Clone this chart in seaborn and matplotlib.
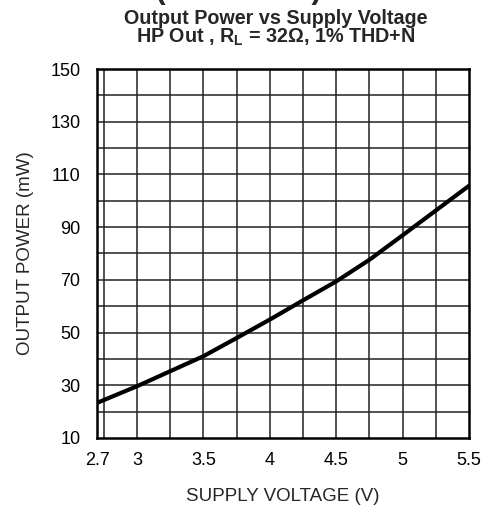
import matplotlib
matplotlib.use('Agg')
import matplotlib.pyplot as plt
import numpy as np
import pandas as pd
import seaborn as sns

# data
supply_voltage = [2.7, 3.0, 3.25, 3.5, 3.75, 4.0, 4.25, 4.5, 4.75, 5.0, 5.25, 5.5]
output_power = [23.3, 29.6, 35.3, 41.0, 47.9, 54.9, 62.2, 69.4, 77.6, 86.9, 96.3, 105.7]

x_ticks = [2.7, 3, 3.5, 4, 4.5, 5, 5.5]
x_tick_labels = ['2.7', '3', '3.5', '4', '4.5', '5', '5.5']
x_grid = [2.75, 3.0, 3.25, 3.5, 3.75, 4.0, 4.25, 4.5, 4.75, 5.0, 5.25]
y_ticks = [10, 30, 50, 70, 90, 110, 130, 150]
y_grid = [20, 30, 40, 50, 60, 70, 80, 90, 100, 110, 120, 130, 140]

df = pd.DataFrame({'voltage': supply_voltage, 'power': output_power})

sns.set_style('white')
plt.rcParams['font.family'] = ['Liberation Sans', 'DejaVu Sans']

fig = plt.figure(figsize=(4.88, 5.08), dpi=100)
ax = fig.add_axes([0.199, 0.138, 0.762, 0.726])

# grid
for gx in x_grid:
    ax.axvline(gx, color='#222222', lw=1.1, zorder=1)
for gy in y_grid:
    ax.axhline(gy, color='#222222', lw=1.1, zorder=1)

sns.lineplot(data=df, x='voltage', y='power', color='black', lw=3.0, ax=ax, zorder=3)

ax.set_xlim(2.7, 5.5)
ax.set_ylim(10, 150)
ax.set_xticks(x_ticks)
ax.set_xticklabels(x_tick_labels)
ax.set_yticks(y_ticks)
ax.tick_params(axis='x', length=0, labelsize=13, colors='black', pad=10)
ax.tick_params(axis='y', length=0, labelsize=13, colors='black', pad=12)
for s in ax.spines.values():
    s.set_color('black')
    s.set_linewidth(1.8)
    s.set_visible(True)

ax.set_xlabel('SUPPLY VOLTAGE (V)', fontsize=13.5, labelpad=14)
ax.set_ylabel('OUTPUT POWER (mW)', fontsize=13.5, labelpad=12)

fig.text(0.565, 0.952, 'Output Power vs Supply Voltage', ha='center', va='baseline',
         fontsize=14.2, fontweight='bold')
fig.text(0.565, 0.915, 'HP Out , R$_\\mathregular{L}$ = 32\u03a9, 1% THD+N', ha='center', va='baseline',
         fontsize=14.2, fontweight='bold')
# clipped header from the page above
fig.text(0.66, 1.003, 'Typical Performance Characteristics (continued)', ha='right', va='baseline',
         fontsize=22, fontweight='bold')

fig.savefig('out.png', dpi=100)
